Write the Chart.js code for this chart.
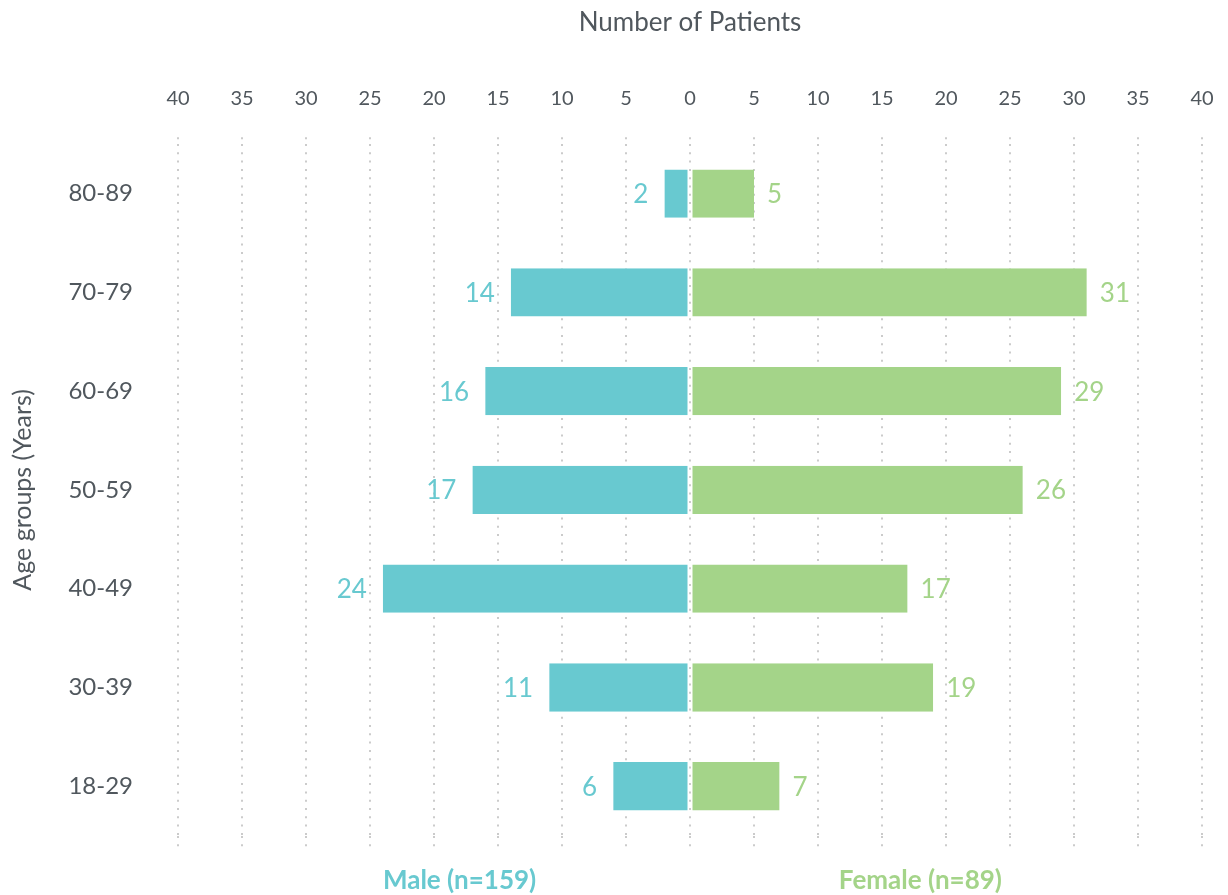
<!DOCTYPE html>
<html>
<head>
<meta charset="utf-8">
<title>Number of Patients by Age Group</title>
<script src="https://cdn.jsdelivr.net/npm/chart.js@4/dist/chart.umd.min.js"></script>
<style>
  html, body { margin: 0; padding: 0; background: #ffffff; }
  #wrap { width: 1228px; height: 895px; }
</style>
</head>
<body>
<div id="wrap"><canvas id="chart" width="1228" height="895"></canvas></div>
<script>
// Age groups, top to bottom
const ageGroups = ['80-89', '70-79', '60-69', '50-59', '40-49', '30-39', '18-29'];
// Patient counts per age group
const maleCounts = [2, 14, 16, 17, 24, 11, 6];
const femaleCounts = [5, 31, 29, 26, 17, 19, 7];
// Group captions under the chart
const maleCaption = 'Male (n=159)';
const femaleCaption = 'Female (n=89)';
const axisTitleX = 'Number of Patients';
const axisTitleY = 'Age groups (Years)';

const MALE = '#68c9d0';
const FEMALE = '#a4d489';
const TEXT = '#50575d';
const GRID = '#cbcbcb';
const FONT = 'Lato, "Open Sans", sans-serif';
const DOTS = [2, 6.3];

// Value labels at the bar ends and group captions below the axis
const barLabels = {
  id: 'barLabels',
  afterDatasetsDraw(chart) {
    const ctx = chart.ctx;
    ctx.save();
    ctx.font = '26px ' + FONT;
    ctx.textBaseline = 'middle';
    chart.data.datasets.forEach((ds, di) => {
      const meta = chart.getDatasetMeta(di);
      meta.data.forEach((bar, i) => {
        const v = Math.abs(ds.data[i]);
        if (ds.data[i] < 0) {
          ctx.textAlign = 'right';
          ctx.fillStyle = MALE;
          ctx.fillText(String(v), bar.x - 16, bar.y + 1);
        } else {
          ctx.textAlign = 'left';
          ctx.fillStyle = FEMALE;
          ctx.fillText(String(v), bar.x + 13, bar.y + 1);
        }
      });
    });
    ctx.restore();
  },
  afterDraw(chart) {
    const ctx = chart.ctx;
    const x = chart.scales.x;
    ctx.save();
    ctx.font = 'bold 26px ' + FONT;
    ctx.textAlign = 'center';
    ctx.textBaseline = 'middle';
    ctx.fillStyle = MALE;
    ctx.fillText(maleCaption, x.getPixelForValue(-18), chart.chartArea.bottom + 45);
    ctx.fillStyle = FEMALE;
    ctx.fillText(femaleCaption, x.getPixelForValue(18), chart.chartArea.bottom + 45);
    ctx.restore();
  }
};

const dottedGrid = {
  color: GRID,
  lineWidth: 2,
  tickBorderDash: DOTS,
  tickColor: GRID,
  tickWidth: 2
};

new Chart(document.getElementById('chart'), {
  type: 'bar',
  data: {
    labels: ageGroups,
    datasets: [
      {
        label: 'Male',
        data: maleCounts.map(v => -v),
        backgroundColor: MALE,
        borderColor: 'rgba(0,0,0,0)',
        borderWidth: { right: 1.5 },
        borderSkipped: false,
        barPercentage: 0.49,
        categoryPercentage: 1
      },
      {
        label: 'Female',
        data: femaleCounts,
        backgroundColor: FEMALE,
        borderColor: 'rgba(0,0,0,0)',
        borderWidth: { left: 1.5 },
        borderSkipped: false,
        barPercentage: 0.49,
        categoryPercentage: 1
      }
    ]
  },
  options: {
    indexAxis: 'y',
    responsive: false,
    animation: false,
    layout: { padding: { left: 8, right: 26, top: 7, bottom: 44 } },
    plugins: {
      legend: { display: false },
      tooltip: { enabled: false }
    },
    scales: {
      x: {
        position: 'top',
        min: -40,
        max: 40,
        stacked: true,
        border: { display: false, dash: DOTS },
        grid: Object.assign({ drawTicks: true, tickLength: 7 }, dottedGrid),
        // the right edge is set by the layout padding alone
        afterFit(scale) { scale.paddingRight = 0; scale.paddingLeft = 0; },
        ticks: {
          stepSize: 5,
          padding: 27,
          color: TEXT,
          font: { family: FONT, size: 20 },
          maxRotation: 0,
          callback: v => Math.abs(v)
        },
        title: {
          display: true,
          text: axisTitleX,
          color: TEXT,
          font: { family: FONT, size: 26 },
          padding: { top: 0, bottom: 21 }
        }
      },
      x2: {
        position: 'bottom',
        min: -40,
        max: 40,
        border: { display: false, dash: DOTS },
        grid: Object.assign({ drawOnChartArea: false, drawTicks: true, tickLength: 15 }, dottedGrid),
        ticks: { stepSize: 5, display: false }
      },
      y: {
        stacked: true,
        border: { display: false },
        grid: { display: false, drawTicks: false },
        afterFit(scale) { scale.width = 170; },
        ticks: {
          color: TEXT,
          padding: 45,
          font: { family: FONT, size: 24 }
        },
        title: {
          display: true,
          text: axisTitleY,
          color: TEXT,
          font: { family: FONT, size: 25 },
          padding: { top: 0, bottom: 16 }
        }
      }
    }
  },
  plugins: [barLabels]
});
</script>
</body>
</html>
